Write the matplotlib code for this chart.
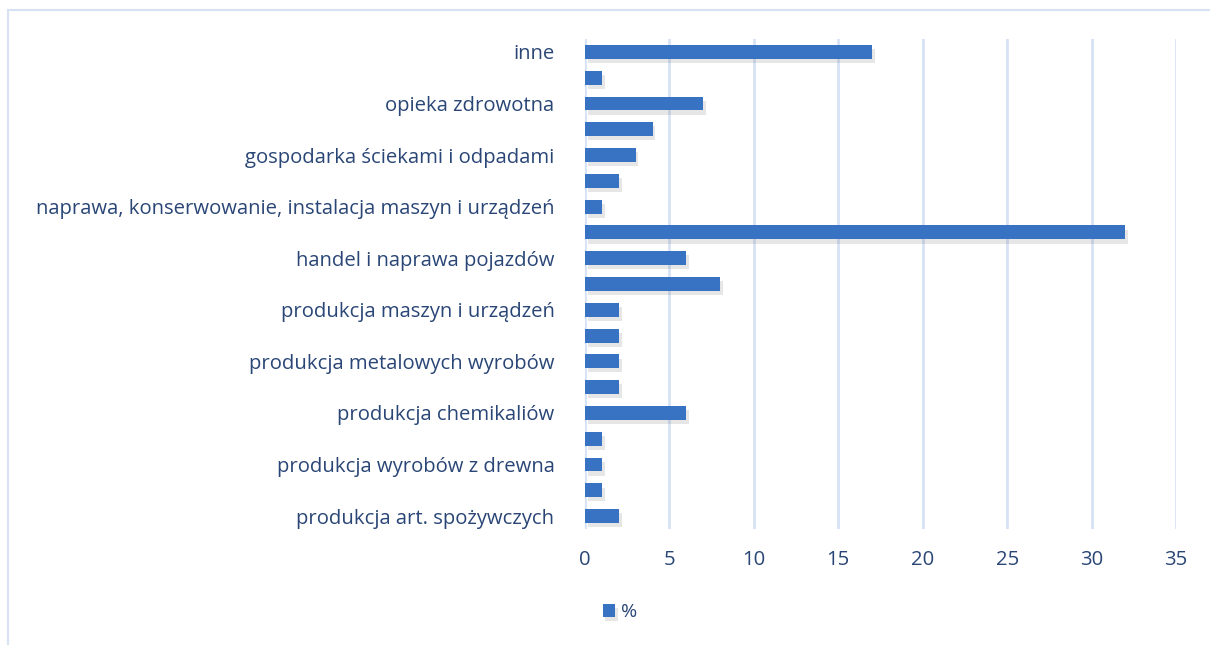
import matplotlib
matplotlib.use("Agg")
import matplotlib.pyplot as plt
import matplotlib.patheffects as pe
from matplotlib.patches import Rectangle

# categories from bottom to top (empty = unlabelled row)
labels = [
    "produkcja art. spożywczych", "",
    "produkcja wyrobów z drewna", "",
    "produkcja chemikaliów", "",
    "produkcja metalowych wyrobów", "",
    "produkcja maszyn i urządzeń", "",
    "handel i naprawa pojazdów", "",
    "naprawa, konserwowanie, instalacja maszyn i urządzeń", "",
    "gospodarka ściekami i odpadami", "",
    "opieka zdrowotna", "",
    "inne",
]
values = [2, 1, 1, 1, 6, 2, 2, 2, 2, 8, 6, 32, 1, 2, 3, 4, 7, 1, 17]
xticks = [0, 5, 10, 15, 20, 25, 30, 35]

text_col = "#2A4676"
bar_col = "#3872C2"
grid_col = "#D6E2F4"

plt.rcParams['font.family'] = ['Open Sans', 'DejaVu Sans']

fig = plt.figure(figsize=(12.1, 6.45), dpi=100)
ax = fig.add_axes([585 / 1210, 1 - 529 / 645, (1176 - 585) / 1210, 490 / 645])

pos = list(range(len(values)))
bars = ax.barh(pos, values, height=0.54, color=bar_col, zorder=3, label="%")
for b in bars:
    b.set_path_effects([pe.SimplePatchShadow(offset=(2, -3), alpha=0.13, shadow_rgbFace="#444444"),
                        pe.Normal()])

ax.set_xlim(0, 35)
ax.set_ylim(-0.5, len(values) - 0.5)
ax.set_xticks(xticks)
ax.set_yticks(pos)
ax.set_yticklabels(labels)
ax.tick_params(length=0, labelsize=14.6, colors=text_col)
ax.tick_params(axis='y', pad=22)
ax.tick_params(axis='x', pad=15)
ax.xaxis.grid(True, color=grid_col, linewidth=2, zorder=0)
for s in ax.spines.values():
    s.set_visible(False)

leg = fig.legend(handles=[bars], labels=["%"], loc="center left",
                 bbox_to_anchor=(585 / 1210, 1 - 612 / 645), frameon=False,
                 fontsize=14, handlelength=0.65, handleheight=0.65, handletextpad=0.3)
for t in leg.get_texts():
    t.set_color(text_col)

# outer chart frame
fig.patches.append(Rectangle((8 / 1210, -0.1), 1.2, 1 - 10 / 645 + 0.1,
                             transform=fig.transFigure, fill=False,
                             edgecolor=grid_col, linewidth=1.5))

fig.savefig("out.png", dpi=100)
